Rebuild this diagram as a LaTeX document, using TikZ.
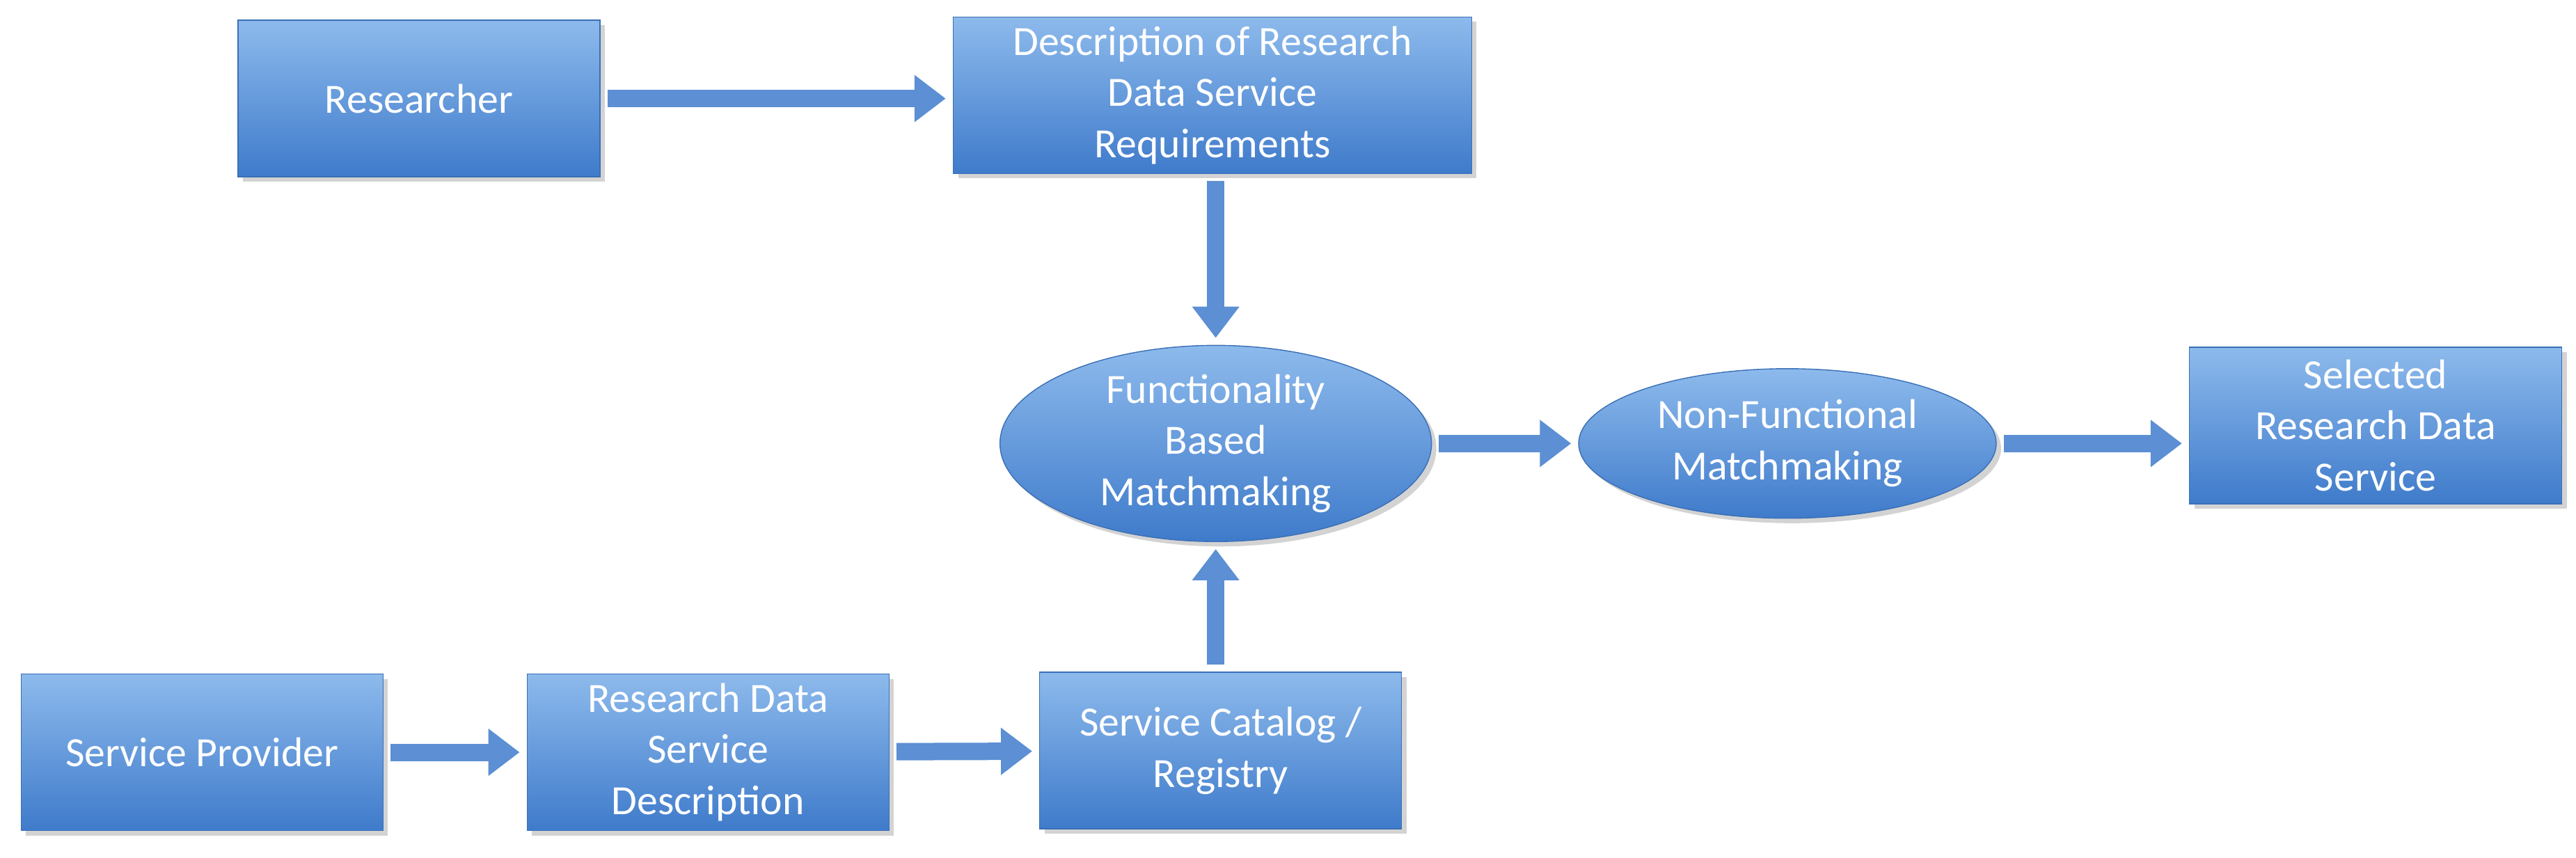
\documentclass[tikz,border=0pt]{standalone}
\usepackage{fontspec}
\setmainfont{Carlito}
\usetikzlibrary{positioning,shapes.geometric,arrows.meta,shadows}
\definecolor{boxtop}{HTML}{8DBAEC}
\definecolor{boxbot}{HTML}{3F7BCB}
\definecolor{boxline}{HTML}{3A6FB5}
\begin{document}
\begin{tikzpicture}[x=0.0236cm, y=-0.0236cm,
    box/.style={rectangle, draw=boxline, top color=boxtop, bottom color=boxbot,
      text=white, font=\fontsize{17}{21}\selectfont, align=center,
      minimum width=#1, minimum height=2.25cm, inner sep=2pt,
      drop shadow={opacity=0.35, shadow xshift=2pt, shadow yshift=-2pt}},
    box/.default=5.2cm,
    oval/.style={ellipse, draw=boxline, top color=boxtop, bottom color=boxbot,
      text=white, font=\fontsize{17}{21}\selectfont, align=center,
      minimum width=6.2cm, minimum height=2.3cm, inner sep=0pt,
      drop shadow={opacity=0.35, shadow xshift=2pt, shadow yshift=-2pt}},
    flow/.style={draw=boxline, line width=0.25cm, color=boxbot!85!white,
      -{Triangle[length=0.45cm, width=0.65cm]}, shorten >=0.1cm, shorten <=0.1cm}]

  \useasboundingbox (0,0) rectangle (1568,522);

  \node[box] (researcher) at (255,60) {Researcher};
  \node[box=7.45cm] (requirements) at (738,58) {Description of Research\\Data Service\\Requirements};
  \node[oval] (functional) at (740,270) {Functionality\\Based\\Matchmaking};
  \node[oval, minimum width=6.0cm, minimum height=2.15cm] (nonfunctional) at (1088,270) {Non-Functional\\Matchmaking};
  \node[box=5.35cm] (selected) at (1446,259) {Selected\\Research Data\\Service};
  \node[box] (provider) at (123,458) {Service Provider};
  \node[box] (description) at (431,458) {Research Data\\Service\\Description};
  \node[box] (catalog) at (743,457) {Service Catalog /\\Registry};

  \draw[flow] (researcher) -- (researcher -| requirements.west);
  \draw[flow] (requirements.south -| functional) -- (functional);
  \draw[flow] (functional) -- (nonfunctional);
  \draw[flow] (nonfunctional.east) -- (nonfunctional.east -| selected.west);
  \draw[flow] (provider) -- (description);
  \draw[flow] (description) -- (catalog);
  \draw[flow] (catalog.north -| functional) -- (functional);

\end{tikzpicture}
\end{document}
